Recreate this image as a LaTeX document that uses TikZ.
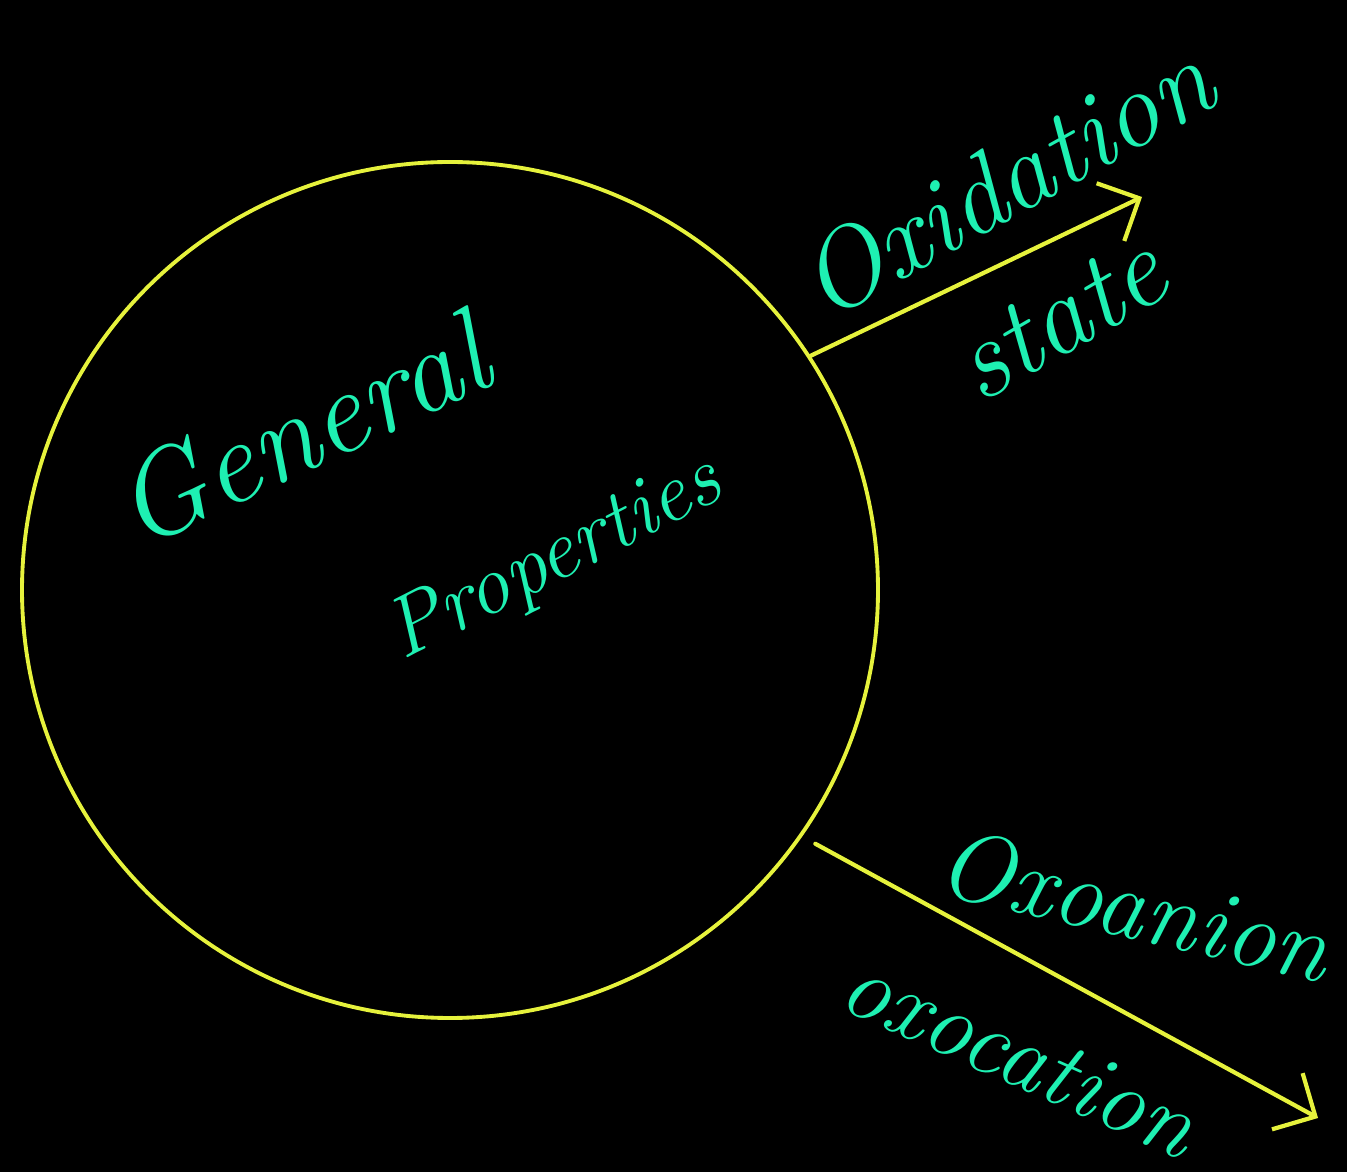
\documentclass[tikz,border=0pt]{standalone}
\usepackage{fontspec}
\usepackage{tikz}
\usetikzlibrary{arrows.meta,positioning}
\definecolor{ink}{HTML}{1EF0B2}
\definecolor{chalk}{HTML}{E6F23C}
\definecolor{board}{HTML}{000000}

\begin{document}
\begin{tikzpicture}[
  x=0.1mm,y=-0.1mm,
  every node/.style={text=ink,inner sep=0pt},
  hand/.style={font=\fontsize{#1}{#1}\selectfont\itshape},
  ring/.style={circle,draw=chalk,line width=1.1pt,minimum size=85.6mm},
  arr/.style={-{Straight Barb[length=3.2mm,width=6.4mm]},line width=1.2pt,chalk,line cap=round}
]
\fill[board] (0,0) rectangle (1347,1172);
\useasboundingbox (0,0) rectangle (1347,1172);
\node[ring] (ring) at (450,590) {};
\node[hand=34pt,rotate=25] (gen) at (300,430) {General};
\node[hand=24pt,rotate=27] (prop) at (555,560) {Properties};
\node[hand=31pt,rotate=29] (oxi) at (1005,180) {Oxidation};
\node[hand=32pt,rotate=30] (state) at (1060,318) {state};
\node[hand=28pt,rotate=-13] (anion) at (1135,905) {Oxoanion};
\node[hand=27pt,rotate=-24] (cation) at (1020,1055) {oxocation};
\coordinate (tipA) at (1142,197);
\coordinate (tipB) at (1318,1118);
\draw[arr] (ring.33) -- (tipA);
\draw[arr,shorten <=1.5mm] (ring.-35) -- (tipB);
\end{tikzpicture}
\end{document}
